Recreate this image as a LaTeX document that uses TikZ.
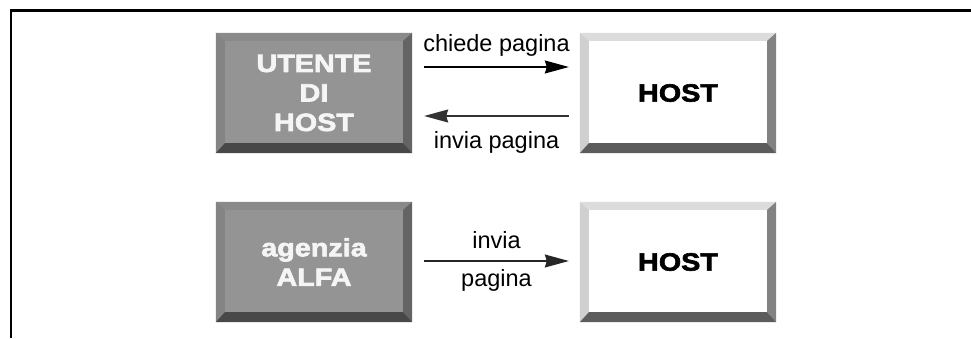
\documentclass[tikz,border=0pt]{standalone}
\usepackage{fontspec}
\setmainfont{Liberation Sans}
\newfontfamily\heavyfont{Liberation Sans}[UprightFont=* Bold, FakeBold=2.5, FakeStretch=1.15]
\usetikzlibrary{calc,arrows.meta}
\definecolor{facegray}{RGB}{148,148,148}
\definecolor{gtop}{RGB}{138,138,138}
\definecolor{gleft}{RGB}{132,132,132}
\definecolor{gright}{RGB}{100,100,100}
\definecolor{gbottom}{RGB}{72,72,72}
\definecolor{wtop}{RGB}{220,220,220}
\definecolor{wleft}{RGB}{208,208,208}
\definecolor{wright}{RGB}{130,130,130}
\definecolor{wbottom}{RGB}{92,92,92}
\definecolor{lighttext}{RGB}{245,245,245}
\newcommand\bevelbox[5]{%
  \fill[#2] (#1.north west) -- (#1.north east) -- ($(#1.north east)+(-9,-8)$) -- ($(#1.north west)+(9,-8)$) -- cycle;
  \fill[#3] (#1.north west) -- ($(#1.north west)+(9,-8)$) -- ($(#1.south west)+(9,10)$) -- (#1.south west) -- cycle;
  \fill[#4] (#1.north east) -- ($(#1.north east)+(-9,-8)$) -- ($(#1.south east)+(-9,10)$) -- (#1.south east) -- cycle;
  \fill[#5] (#1.south west) -- ($(#1.south west)+(9,10)$) -- ($(#1.south east)+(-9,10)$) -- (#1.south east) -- cycle;
}
\tikzset{
  boxbase/.style={minimum width=196bp, minimum height=120bp, inner sep=0pt, align=center,
    font=\heavyfont\fontsize{25bp}{29.5bp}\selectfont},
  graybox/.style={boxbase, fill=facegray, text=lighttext},
  whitebox/.style={boxbase, fill=white, text=black},
  arr/.style={line width=1.1bp, -{Stealth[length=24bp,width=13bp,inset=2bp]}},
  lbl/.style={font=\fontsize{23.5bp}{28bp}\selectfont, anchor=base, inner sep=0pt},
}
\begin{document}
\begin{tikzpicture}[x=1bp,y=1bp]
\useasboundingbox (0,0) rectangle (971,338);
\fill[white] (0,0) rectangle (971,338);
% frame
\draw[line width=2.6bp, miter limit=10] (11,0) -- (11,327.5) -- (971,327.5);
% boxes
\node[graybox] (u) at (314,245) {UTENTE\\DI\\HOST};
\node[whitebox] (h1) at (678,245) {HOST};
\node[graybox] (a) at (314,76) {agenzia\\ALFA};
\node[whitebox] (h2) at (678,76) {HOST};
\bevelbox{u}{gtop}{gleft}{gright}{gbottom}
\bevelbox{a}{gtop}{gleft}{gright}{gbottom}
\bevelbox{h1}{wtop}{wleft}{wright}{wbottom}
\bevelbox{h2}{wtop}{wleft}{wright}{wbottom}
% arrows
\draw[arr] ([xshift=12bp,yshift=26bp]u.east) -- node[lbl, yshift=15bp] (l1) {chiede pagina} ([xshift=-11bp,yshift=26bp]h1.west);
\draw[arr, black!80] ([xshift=-11bp,yshift=-23bp]h1.west) -- node[lbl, yshift=-32bp, text=black] (l2) {invia pagina} ([xshift=12bp,yshift=-23bp]u.east);
\draw[arr, black!85] ([xshift=12bp,yshift=1bp]a.east) -- node[lbl, yshift=13bp, text=black] (l3) {invia} node[lbl, yshift=-25bp, text=black] (l4) {pagina} ([xshift=-11bp,yshift=1bp]h2.west);
\end{tikzpicture}
\end{document}
